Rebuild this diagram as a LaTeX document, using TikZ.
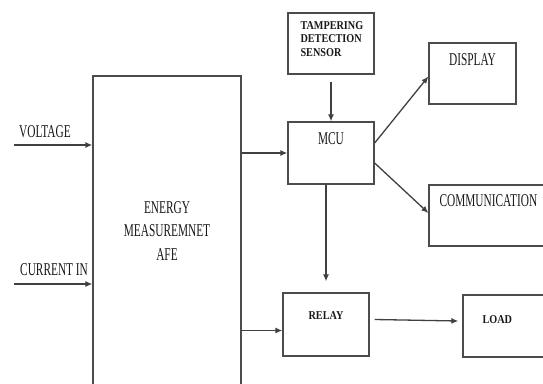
\documentclass[tikz,border=0pt]{standalone}
\usepackage{fontspec}
\setmainfont{Liberation Serif}
\newfontfamily\narrowfont[FakeStretch=0.63]{Liberation Serif}
\newfontfamily\boldnarrow[FakeStretch=0.85]{Liberation Serif}
\usetikzlibrary{arrows.meta, positioning}

\begin{document}
\begin{tikzpicture}[
  x=1pt, y=-1pt,
  box/.style={draw=black!70, line width=1.3pt, minimum width=86pt,
              minimum height=62pt, inner sep=0pt},
  txt/.style={font=\narrowfont\fontsize{18}{23.5}\selectfont, text=black!90, inner sep=0pt},
  btxt/.style={font=\boldnarrow\bfseries\fontsize{12}{13.5}\selectfont, text=black!90, inner sep=0pt},
  arr/.style={draw=black!75, line width=1.3pt, -{Latex[length=7pt,width=6pt]}}
]
  \useasboundingbox (0,0) rectangle (543,383);
  \clip (0,0) rectangle (543,383);

  % blocks
  \node[box, minimum width=148pt, minimum height=324pt] (afe) at (167,238) {};
  \node[box, minimum height=61pt] (tamper) at (331,43.5) {};
  \node[box] (mcu) at (331,153) {};
  \node[box, minimum width=87pt, minimum height=61pt] (display) at (472.5,73.5) {};
  \node[box, minimum width=130pt, minimum height=61pt] (comm) at (494,215.5) {};
  \node[box, minimum height=63pt] (relay) at (326,324.5) {};
  \node[box, minimum width=97pt] (load) at (511.5,326) {};

  % texts
  \node[txt, align=center] (afetxt) at (167,231) {ENERGY\\MEASUREMNET\\AFE};
  \node[btxt, align=left, anchor=north west] (tampertxt) at ([shift={(13,9)}]tamper.north west)
    {TAMPERING\\DETECTION\\SENSOR};
  \node[txt, below=11pt of mcu.north] (mcutxt) {MCU};
  \node[txt, below=11pt of display.north] (disptxt) {DISPLAY};
  \node[txt, anchor=west] (commtxt) at ([shift={(11,16)}]comm.north west) {COMMUNICATION};
  \node[btxt, below=19pt of relay.north] (relaytxt) {RELAY};
  \node[btxt, anchor=west] (loadtxt) at ([shift={(20,-6)}]load.west) {LOAD};

  % inputs
  \coordinate (vin) at (14,145);
  \coordinate (iin) at (14,284);
  \node[txt, anchor=west] (vlbl) at (19,132) {VOLTAGE};
  \node[txt, anchor=west] (ilbl) at (20,270) {CURRENT IN};
  \draw[arr] (vin) -- (vin -| afe.west);
  \draw[arr] (iin) -- (iin -| afe.west);

  % connections
  \path (relay.west) ++(0,6) coordinate (rin);
  \draw[arr] (afe.east |- mcu.west) -- (mcu.west);
  \draw[arr] (afe.east |- rin) -- (rin);
  \draw[arr] ([yshift=-7pt]tamper.south) -- (mcu.north);
  \draw[arr] ([yshift=10pt]mcu.east) -- ([yshift=-3pt]display.west);
  \draw[arr] ([yshift=-10pt]mcu.east) -- ([yshift=2.5pt]comm.west);
  \draw[arr] (mcu.south -| relay.north) -- ([yshift=11pt]relay.north);
  \draw[arr] ([xshift=5pt,yshift=5pt]relay.east) -- ([xshift=-4pt,yshift=5pt]load.west);
\end{tikzpicture}
\end{document}
